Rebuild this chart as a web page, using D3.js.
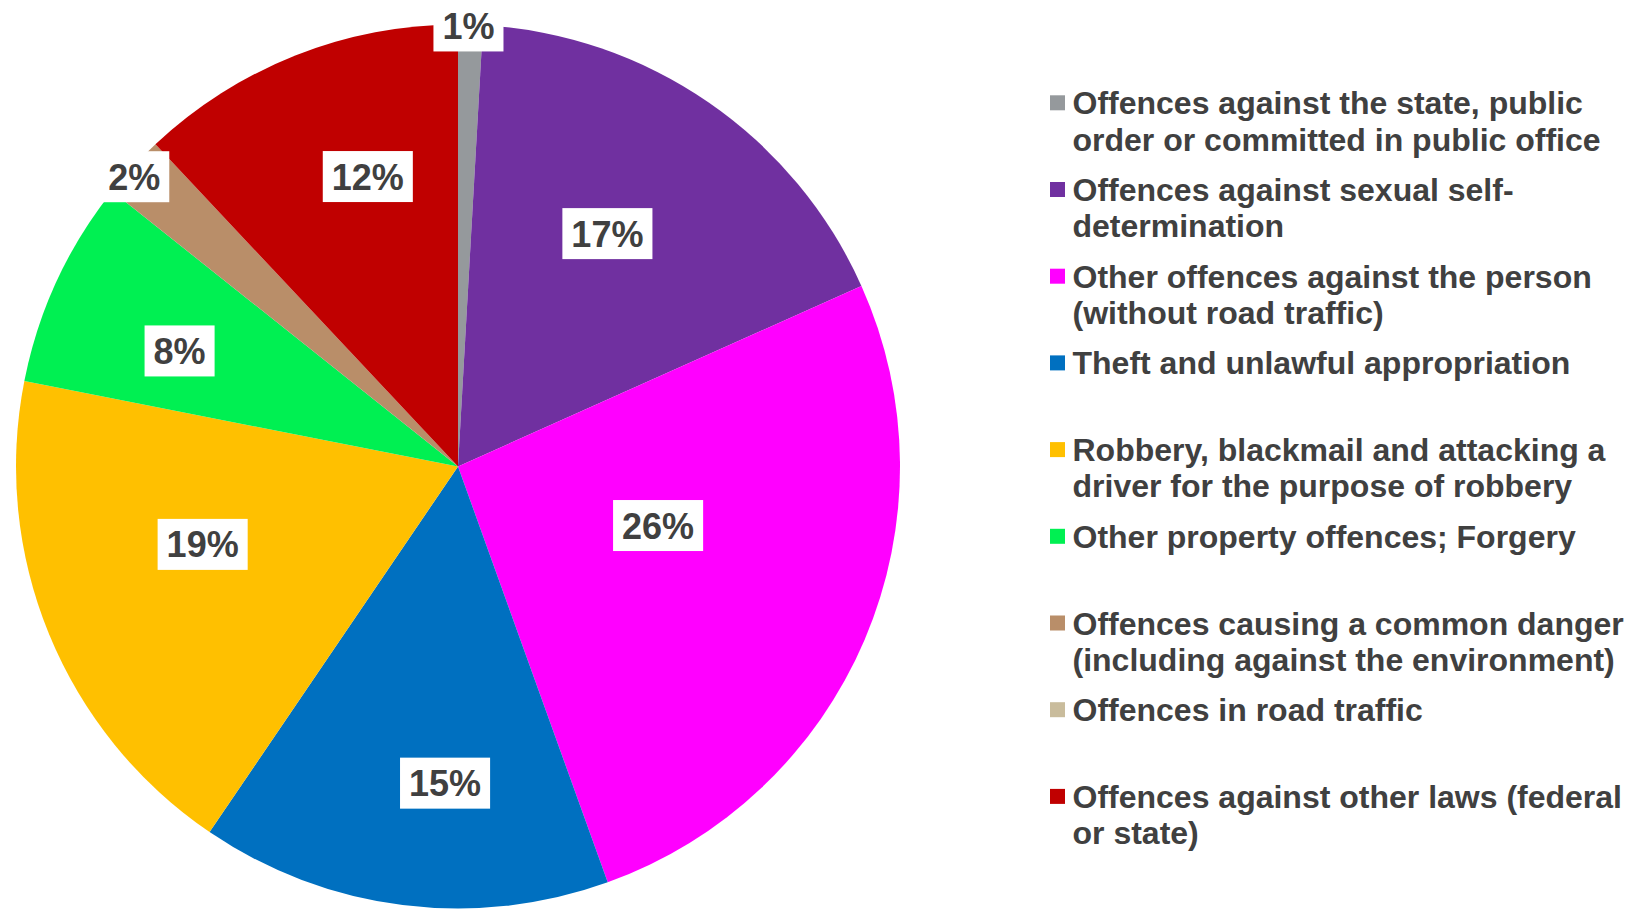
<!DOCTYPE html>
<html>
<head>
<meta charset="utf-8">
<script src="https://cdn.jsdelivr.net/npm/d3@7"></script>
<style>
  html, body { margin: 0; padding: 0; background: #fff; }
  svg { display: block; font-family: "Liberation Sans", Arial, sans-serif; font-weight: bold; }
</style>
</head>
<body>
<svg id="chart" width="1628" height="910"></svg>
<script>
// categories in clockwise order from 12 o'clock
const categories = [
  'Offences against the state, public order or committed in public office',
  'Offences against sexual self-determination',
  'Other offences against the person (without road traffic)',
  'Theft and unlawful appropriation',
  'Robbery, blackmail and attacking a driver for the purpose of robbery',
  'Other property offences; Forgery',
  'Offences causing a common danger (including against the environment)',
  'Offences in road traffic',
  'Offences against other laws (federal or state)'
]
const shares = [0.9, 17.4, 26.2, 15.0, 18.6, 7.6, 2.3, 0, 12.0]
const labels = ['1%', '17%', '26%', '15%', '19%', '8%', '2%', '', '12%']
const colors = ['#95999c', '#7030a0', '#ff00ff', '#0070c0', '#ffc000', '#00f052', '#b98e69', '#c9bc9c', '#c00000']

// label placement (Excel "best fit"): distance from centre as fraction of radius,
// and position across the slice's angle (0 = start, 1 = end)
const labelRadius = [0.997, 0.626, 0.472, 0.717, 0.604, 0.682, 0.983, 0, 0.687]
const labelSpan = [0.42, 0.47, 0.43, 0.41, 0.58, 0.416, 0.4, 0.5, 0.6]

const width = 1628
const height = 910
const cx = 458
const cy = 466.5
const radius = 442
const textColor = '#404040'

const svg = d3.select('#chart')

const pie = d3.pie().sort(null).value(d => d.value)
const data = categories.map((name, i) => ({
  name, value: shares[i], label: labels[i], color: colors[i], lr: labelRadius[i], ls: labelSpan[i]
}))
const arcs = pie(data)

const arc = d3.arc().innerRadius(0).outerRadius(radius)

const g = svg.append('g').attr('transform', `translate(${cx},${cy})`)

g.selectAll('path')
  .data(arcs.filter(d => d.data.value > 0))
  .enter().append('path')
  .attr('d', arc)
  .attr('fill', d => d.data.color)

// data labels in white boxes
const labelG = g.append('g')
arcs.filter(d => d.data.label).forEach(d => {
  const r = radius * d.data.lr
  const a = d.startAngle + (d.endAngle - d.startAngle) * d.data.ls
  const pos = [r * Math.sin(a), -r * Math.cos(a)]
  const lg = labelG.append('g').attr('transform', `translate(${pos[0]},${pos[1]})`)
  const box = lg.append('rect').attr('fill', '#fff')
  const t = lg.append('text')
    .attr('text-anchor', 'middle')
    .attr('dy', '0.36em')
    .attr('font-size', 36)
    .attr('fill', textColor)
    .text(d.data.label)
  const w = t.node().getComputedTextLength() + 18
  const h = 51
  box.attr('x', -w / 2).attr('y', -h / 2).attr('width', w).attr('height', h)
})

// legend
const legendX = 1050
const legendTop = 102.8
const slot = 86.7
const lineH = 36.3
const maxTextW = 560
const legend = svg.append('g')

function wrap(textSel, str, maxW) {
  // split after spaces and hyphens
  const tokens = str.match(/[^\s-]+-?|\s+/g)
  const lines = []
  let cur = ''
  const probe = textSel.append('tspan')
  tokens.forEach(tok => {
    const trial = cur + tok
    probe.text(trial.trim())
    if (probe.node().getComputedTextLength() > maxW && cur.trim()) {
      lines.push(cur.trim())
      cur = tok.trim() ? tok : ''
    } else {
      cur = trial
    }
  })
  if (cur.trim()) lines.push(cur.trim())
  probe.remove()
  return lines
}

data.forEach((d, i) => {
  const y0 = legendTop + i * slot
  legend.append('rect')
    .attr('x', legendX)
    .attr('y', y0 - 7.5)
    .attr('width', 15)
    .attr('height', 15)
    .attr('fill', d.color)
  const t = legend.append('text')
    .attr('font-size', 32)
    .attr('fill', textColor)
  const lines = wrap(t, d.name, maxTextW)
  lines.forEach((ln, j) => {
    t.append('tspan')
      .attr('x', legendX + 22.5)
      .attr('y', y0 + j * lineH)
      .attr('dy', '0.36em')
      .text(ln)
  })
})
</script>
</body>
</html>
